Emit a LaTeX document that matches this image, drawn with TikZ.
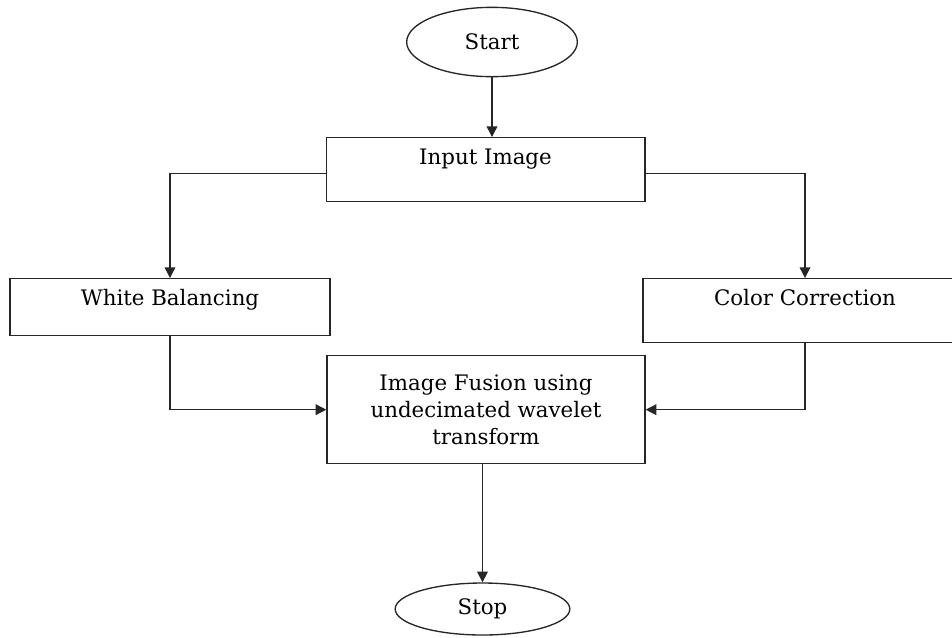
\documentclass[tikz,border=0pt]{standalone}
\usepackage{fontspec}
\setmainfont{DejaVu Serif}
\usepackage{tikz}
\usetikzlibrary{arrows.meta,positioning,shapes.geometric}

\begin{document}
\begin{tikzpicture}[x=0.75pt, y=-0.75pt, font=\fontsize{16pt}{20pt}\selectfont]
        \tikzset{
            term/.style={draw=black!85, ellipse, line width=1pt, inner sep=0pt},
            box/.style={draw=black!85, rectangle, line width=1pt, anchor=north, inner xsep=0pt, inner ysep=8pt, text height=12pt},
            arr/.style={-{Triangle[length=8pt, width=8pt]}, line width=1pt, draw=black!85}
        }
        \useasboundingbox (0,0) rectangle (952,637);

        \node[term, minimum width=128pt, minimum height=52pt] (start) at (492,42) {Start};
        \node[box, minimum width=239pt, text depth=20pt] (input) at (485.5,137) {Input Image};
        \node[box, minimum width=240pt, text depth=14.75pt] (wb) at (170,278) {White Balancing};
        \node[box, minimum width=243pt, text depth=20pt] (cc) at (805,278) {Color Correction};
        \node[draw=black!85, line width=1pt, anchor=north, align=center, minimum width=238.5pt, minimum height=81pt] (fusion) at (486,355)
            {Image Fusion using\\undecimated wavelet\\transform};
        \node[term, minimum width=131pt, minimum height=39pt] (stop) at (482.5,609) {Stop};

        \draw[arr] (start.south) -- (start.south |- input.north);
        \draw[arr] ([yshift=-3pt]input.west) -| (wb.north);
        \draw[arr] ([yshift=-3pt]input.east) -| (cc.north);
        \draw[arr] (wb.south) |- (fusion.west);
        \draw[arr] (cc.south) |- (fusion.east);
        \draw[arr] (stop.north |- fusion.south) -- (stop.north);
    \end{tikzpicture}
\end{document}
